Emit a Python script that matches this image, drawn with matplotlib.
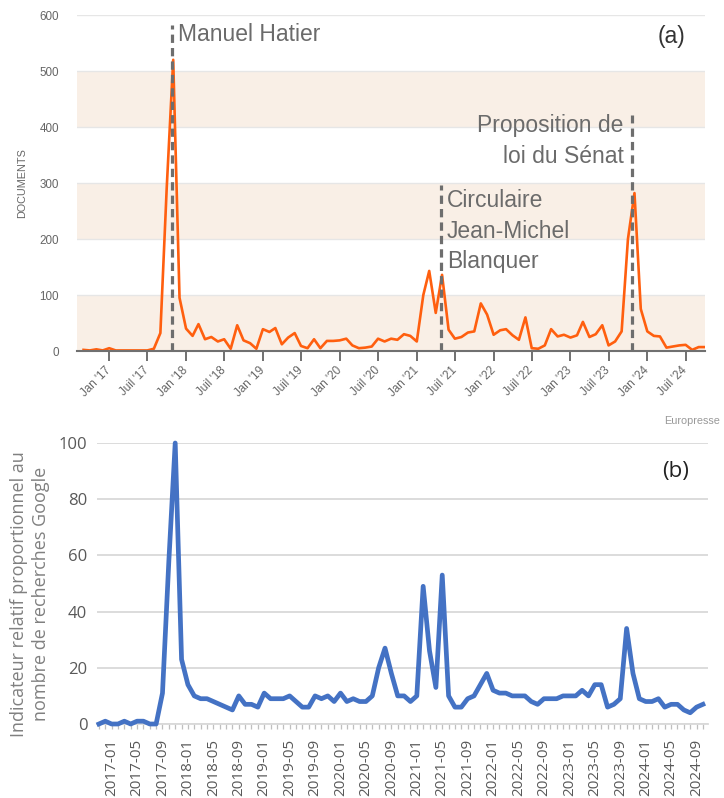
import matplotlib
matplotlib.use("Agg")
import matplotlib.pyplot as plt
import pandas as pd

# (a) Europresse: monthly number of documents, 2016-09 .. 2024-10
press_start = "2016-09-01"
press_counts = [
    2, 1, 3, 1,
    5, 1, 1, 1, 1, 1, 1, 4, 32, 290, 520, 95,
    40, 27, 48, 21, 25, 17, 21, 4, 46, 19, 14, 4,
    39, 34, 41, 12, 24, 32, 9, 5, 21, 5, 18, 18,
    19, 22, 10, 5, 6, 8, 22, 17, 22, 20, 30, 27,
    17, 100, 143, 68, 136, 38, 22, 25, 33, 35, 85, 65,
    29, 37, 39, 28, 20, 60, 5, 4, 10, 39, 26, 29,
    24, 28, 52, 25, 30, 46, 10, 17, 35, 200, 282, 75,
    35, 27, 26, 6, 8, 10, 11, 2, 7, 7,
]
press_ticks = [f"{y}-{m:02d}-01" for y in range(2017, 2025) for m in (1, 7)]
press_tick_labels = [
    "Jan '17", "Juil '17", "Jan '18", "Juil '18", "Jan '19", "Juil '19",
    "Jan '20", "Juil '20", "Jan '21", "Juil '21", "Jan '22", "Juil '22",
    "Jan '23", "Juil '23", "Jan '24", "Juil '24",
]
event_dates = ["2017-10-26", "2021-04-28", "2023-10-19"]
event_tops = [582, 296, 421]

# (b) Google Trends: monthly relative index, 2016-11 .. 2024-10
google_index = [
    0, 1,
    0, 0, 1, 0, 1, 1, 0, 0, 11, 58, 100, 23,
    14, 10, 9, 9, 8, 7, 6, 5, 10, 7, 7, 6,
    11, 9, 9, 9, 10, 8, 6, 6, 10, 9, 10, 8,
    11, 8, 9, 8, 8, 10, 20, 27, 18, 10, 10, 8,
    10, 49, 26, 13, 53, 10, 6, 6, 9, 10, 14, 18,
    12, 11, 11, 10, 10, 10, 8, 7, 9, 9, 9, 10,
    10, 10, 12, 10, 14, 14, 6, 7, 9, 34, 18, 9,
    8, 8, 9, 6, 7, 7, 5, 4, 6, 7,
]
google_tick_pos = list(range(2, 96, 4))
google_tick_labels = [
    "2017-01", "2017-05", "2017-09", "2018-01", "2018-05", "2018-09",
    "2019-01", "2019-05", "2019-09", "2020-01", "2020-05", "2020-09",
    "2021-01", "2021-05", "2021-09", "2022-01", "2022-05", "2022-09",
    "2023-01", "2023-05", "2023-09", "2024-01", "2024-05", "2024-09",
]

HC_FONT = ["Liberation Sans", "DejaVu Sans"]
XL_FONT = ["Open Sans", "DejaVu Sans"]
ANNOT = "#6b6b6b"

fig = plt.figure(figsize=(7.24, 7.98), dpi=100)

# ---------- (a) ----------
ax1 = fig.add_axes([77 / 724, 1 - 351 / 798, 628 / 724, 336 / 798])
dates = pd.date_range(press_start, periods=len(press_counts), freq="MS")

for lo in (0, 200, 400):
    ax1.axhspan(lo, lo + 100, color="#f9efe6", lw=0, zorder=0)
for y in range(100, 700, 100):
    ax1.axhline(y, color="#e6e6e6", lw=1.0, zorder=0.5)

ax1.plot(dates, press_counts, color="#ff5f0f", lw=1.9, zorder=3,
         solid_joinstyle="round")

for d, top in zip(event_dates, event_tops):
    d = pd.Timestamp(d)
    ax1.plot([d, d], [0, top], color="#6e6e6e", lw=2.3,
             linestyle=(0, (2.6, 1.6)), zorder=4, solid_capstyle="butt")

ax1.set_xlim(pd.Timestamp("2016-08-01"), pd.Timestamp("2024-10-01"))
ax1.set_ylim(0, 600)
ax1.set_yticks(range(0, 700, 100))
ax1.set_yticklabels([str(v) for v in range(0, 700, 100)],
                    color="#666666", fontsize=8.4, family=HC_FONT)
ax1.tick_params(axis="y", length=0, pad=13)
ax1.set_xticks(pd.to_datetime(press_ticks))
ax1.set_xticklabels(press_tick_labels, rotation=45, ha="right", va="center",
                    rotation_mode="anchor", color="#666666", fontsize=8.4,
                    family=HC_FONT)
ax1.tick_params(axis="x", length=7.5, width=1.4, color="#707070", pad=5)
for s in ("top", "left", "right"):
    ax1.spines[s].set_visible(False)
ax1.spines["bottom"].set_color("#707070")
ax1.spines["bottom"].set_linewidth(1.5)
ax1.spines["bottom"].set_zorder(5)
ax1.patch.set_alpha(0)

fig.text(22 / 724, 1 - 183 / 798, "DOCUMENTS", rotation=90, ha="center",
         va="center", color="#666666", fontsize=7.8, family=HC_FONT)

ev = [pd.Timestamp(d) for d in event_dates]
ax1.annotate("Manuel Hatier", xy=(ev[0], 566), xytext=(4, 0),
             textcoords="offset points", ha="left", va="center",
             color=ANNOT, fontsize=16.5, family=HC_FONT)
ax1.annotate("Circulaire\nJean-Michel\nBlanquer", xy=(ev[1], 214),
             xytext=(4, 0), textcoords="offset points", ha="left",
             va="center", color=ANNOT, fontsize=16.5, family=HC_FONT,
             linespacing=1.42)
ax1.annotate("Proposition de\nloi du Sénat", xy=(ev[2], 375),
             xytext=(-6, 0), textcoords="offset points", ha="right",
             va="center", color=ANNOT, fontsize=16.5, family=HC_FONT,
             multialignment="right", linespacing=1.42)
ax1.text(0.925, 0.935, "(a)", transform=ax1.transAxes, ha="left",
         va="center", color="#333333", fontsize=16.5, family=HC_FONT)

fig.text(720 / 724, 1 - 421 / 798, "Europresse", ha="right", va="center",
         color="#999999", fontsize=7.8, family=HC_FONT)

# ---------- (b) ----------
ax2 = fig.add_axes([97 / 724, 1 - 724 / 798, 611 / 724, 281 / 798])
idx = list(range(len(google_index)))
ax2.plot(idx, google_index, color="#4472c4", lw=3.4, zorder=3,
         solid_joinstyle="round", clip_on=False)
ax2.set_xlim(-0.3, 95.8)
ax2.set_ylim(0, 100)
ax2.set_yticks(range(0, 120, 20))
ax2.set_yticklabels([str(v) for v in range(0, 120, 20)], color="#595959",
                    fontsize=12, family=XL_FONT)
ax2.yaxis.grid(True, color="#d9d9d9", lw=1.3)
ax2.set_axisbelow(True)
ax2.tick_params(axis="y", length=0, pad=7)
ax2.set_xticks(google_tick_pos)
ax2.set_xticklabels(google_tick_labels, rotation=90, color="#595959",
                    fontsize=11, family=XL_FONT)
ax2.set_xticks(idx, minor=True)
ax2.tick_params(axis="x", which="both", length=3.5, width=0.9,
                color="#bfbfbf", pad=7)
for s in ("top", "left", "right"):
    ax2.spines[s].set_visible(False)
ax2.spines["bottom"].set_color("#d9d9d9")
ax2.spines["bottom"].set_linewidth(1.3)

fig.text(30 / 724, 1 - 594 / 798,
         "Indicateur relatif proportionnel au\nnombre de recherches Google",
         rotation=90, ha="center", va="center", multialignment="center",
         color="#808080", fontsize=13, family=XL_FONT, linespacing=1.35)
ax2.text(0.925, 0.9, "(b)", transform=ax2.transAxes, ha="left",
         va="center", color="#222222", fontsize=16, family=XL_FONT)

fig.savefig("out.png", dpi=100)
